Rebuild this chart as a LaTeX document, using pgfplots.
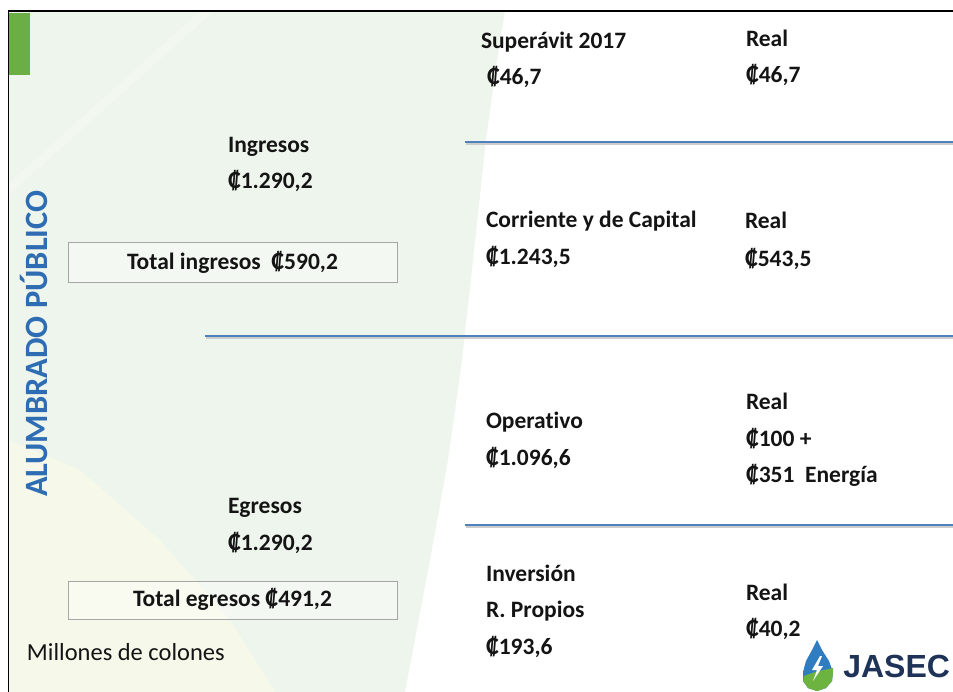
\documentclass[border=0pt]{standalone}
\usepackage{fontspec}
\setmainfont{Carlito}[Ligatures=NoCommon]
\newfontfamily\logofont{Liberation Sans}
\usepackage{pgfplots}
\pgfplotsset{compat=1.18}
\definecolor{txt}{HTML}{141414}
\definecolor{lineblue}{HTML}{4F81BD}
\definecolor{vblue}{HTML}{2E6DB4}
\definecolor{bggreen}{HTML}{EEF5EC}
\definecolor{bgyellow}{HTML}{F6F9EA}
\definecolor{slidegreen}{HTML}{6AAE45}
\definecolor{navy}{HTML}{1F3358}
\definecolor{dropblue}{HTML}{2F7DC0}
\definecolor{dropgreen}{HTML}{6DB33F}
\begin{document}
\begin{tikzpicture}[x=1pt,y=1pt]
\path[use as bounding box, clip] (0,0) rectangle (953,692);
\begin{axis}[
  width=953pt, height=692pt, scale only axis,
  xmin=0, xmax=953, ymin=0, ymax=692, y dir=reverse,
  hide axis, clip=true,
]
% page background
\addplot[fill=white, draw=none] coordinates {(0,0) (953,0) (953,692) (0,692)} -- cycle;
% green curved background
\addplot[fill=bggreen, draw=none] coordinates {(9,11) (505,11) (497,60) (486,140) (473,260) (462,360) (448,460) (430,560) (405,692) (9,692)} -- cycle;
% lighter diagonal streak
\addplot[fill=white, draw=none, opacity=0.25] coordinates {(200,11) (214,11) (9,195) (9,183)} -- cycle;
% yellowish lower-left
\addplot[fill=bgyellow, draw=none] coordinates {(9,440) (80,470) (160,540) (230,620) (275,692) (9,692)} -- cycle;
% green tab
\addplot[fill=slidegreen, draw=none] coordinates {(9,13) (30,13) (30,75) (9,75)} -- cycle;
% borders
\addplot[black, line width=1.8pt] coordinates {(8.5,692) (8.5,11) (953,11)};
% blue separator lines with shadow
\addplot[gray!40, line width=2pt] coordinates {(466,144) (953,144)};
\addplot[lineblue, line width=2.6pt] coordinates {(465,142) (953,142)};
\addplot[gray!40, line width=2pt] coordinates {(206,338) (953,338)};
\addplot[lineblue, line width=2.6pt] coordinates {(205,336) (953,336)};
\addplot[gray!40, line width=2pt] coordinates {(466,527) (953,527)};
\addplot[lineblue, line width=2.6pt] coordinates {(465,525) (953,525)};
% boxes
\addplot[gray!70, line width=1pt, fill=white, fill opacity=0.35] coordinates {(68,243) (397,243) (397,283) (68,283)} -- cycle;
\addplot[gray!70, line width=1pt, fill=white, fill opacity=0.35] coordinates {(68,581) (397,581) (397,619) (68,619)} -- cycle;
% logo drop
\addplot[fill=dropblue, draw=none] coordinates {(817,640) (822,650) (829,661) (833,672) (832,681) (826,688) (817,691) (808,688) (803,681) (803,672) (806,661) (812,650)} -- cycle;
\addplot[fill=dropgreen, draw=none] coordinates {(833,668) (833,672) (832,681) (826,688) (817,691) (808,688) (803,681) (804,676) (815,672)} -- cycle;
\addplot[fill=white, draw=none] coordinates {(820,656) (812,670) (817,670) (813,681) (823,666) (818,666) (822,656)} -- cycle;
\end{axis}
\begin{scope}[every node/.style={inner sep=0pt, outer sep=0pt, text=txt, font=\fontsize{23.5}{27}\selectfont\bfseries}]
\node[anchor=base west] at (228,{692-153}) {Ingresos};
\node[anchor=base west] at (228,{692-189}) {₡1.290,2};
\node[anchor=base] at (232.5,{692-270}) {Total ingresos\ \ ₡590,2};
\node[anchor=base west] at (228,{692-514}) {Egresos};
\node[anchor=base west] at (228,{692-551}) {₡1.290,2};
\node[anchor=base] at (232.5,{692-607}) {Total egresos ₡491,2};
\node[anchor=base west, font=\fontsize{24.5}{28}\selectfont] at (27,{692-661}) {Millones de colones};
\node[anchor=base west, rotate=90, text=vblue, font=\fontsize{32.5}{37}\selectfont\bfseries] at (47,{692-497}) {ALUMBRADO PÚBLICO};
% right columns
\node[anchor=base west] at (481,{692-49}) {Superávit 2017};
\node[anchor=base west] at (487,{692-85}) {₡46,7};
\node[anchor=base west] at (746,{692-47}) {Real};
\node[anchor=base west] at (746,{692-83}) {₡46,7};
\node[anchor=base west] at (486,{692-228}) {Corriente y de Capital};
\node[anchor=base west] at (486,{692-265}) {₡1.243,5};
\node[anchor=base west] at (745,{692-229}) {Real};
\node[anchor=base west] at (745,{692-267}) {₡543,5};
\node[anchor=base west] at (486,{692-429}) {Operativo};
\node[anchor=base west] at (486,{692-466}) {₡1.096,6};
\node[anchor=base west] at (746,{692-410}) {Real};
\node[anchor=base west] at (746,{692-447}) {₡100 +};
\node[anchor=base west] at (746,{692-483}) {₡351\ \ Energía};
\node[anchor=base west] at (486,{692-582}) {Inversión};
\node[anchor=base west] at (486,{692-618}) {R. Propios};
\node[anchor=base west] at (486,{692-655}) {₡193,6};
\node[anchor=base west] at (746,{692-601}) {Real};
\node[anchor=base west] at (746,{692-637}) {₡40,2};
\node[anchor=base east, text=navy, font=\logofont\fontsize{32}{36}\selectfont\bfseries] at (950,{692-678}) {JASEC};
\end{scope}
\end{tikzpicture}
\end{document}
